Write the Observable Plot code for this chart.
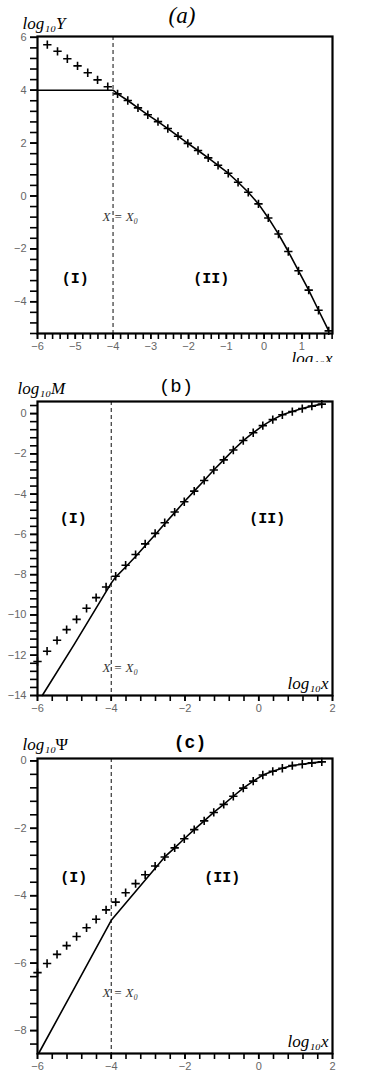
<!DOCTYPE html>
<html><head><meta charset="utf-8">
<script src="https://cdn.jsdelivr.net/npm/d3@7"></script>
<script src="https://cdn.jsdelivr.net/npm/@observablehq/plot@0.6"></script>
<style>html,body{margin:0;padding:0;background:#fff;} svg{display:block;}</style>
</head><body><div id="chart"></div>
<script>
// ---- data ----
const x0 = -4;
const crossX = [-6.0,-5.74,-5.47,-5.21,-4.94,-4.67,-4.41,-4.14,-3.88,-3.61,-3.34,-3.08,-2.81,-2.55,-2.28,-2.02,-1.75,-1.48,-1.22,-0.95,-0.69,-0.42,-0.15,0.11,0.38,0.64,0.91,1.18,1.44,1.71];
// panel (a): crosses start at crossX[1]
const crossYa = [5.72,5.47,5.19,4.92,4.66,4.39,4.13,3.86,3.61,3.33,3.07,2.81,2.55,2.26,1.99,1.72,1.44,1.16,0.86,0.52,0.14,-0.30,-0.83,-1.44,-2.10,-2.83,-3.56,-4.32,-5.10];
const crossYb = [-12.31,-11.80,-11.26,-10.73,-10.22,-9.67,-9.14,-8.61,-8.08,-7.53,-7.00,-6.47,-5.95,-5.42,-4.89,-4.38,-3.85,-3.32,-2.80,-2.30,-1.81,-1.34,-0.95,-0.60,-0.30,-0.06,0.10,0.25,0.37,0.47];
const crossYc = [-6.28,-6.01,-5.74,-5.48,-5.21,-4.95,-4.70,-4.42,-4.19,-3.91,-3.64,-3.38,-3.12,-2.85,-2.58,-2.31,-2.04,-1.78,-1.53,-1.29,-1.05,-0.81,-0.60,-0.42,-0.31,-0.22,-0.14,-0.10,-0.06,-0.03];
// solid curves, region (I) part and start of region (II)
const lineAx = [-6, -4];
const lineAy = [4, 4];
const lineBx = [-5.87,-5.0,-4.0,-3.88,-3.61,-3.34,-3.08,-2.81,-2.55,-2.28];
const lineBy = [-14.0,-11.45,-8.42,-8.12,-7.62,-7.10,-6.56,-6.02,-5.47,-4.92];
const lineCx = [-5.97,-5.0,-4.0,-2.55];
const lineCy = [-8.68,-6.74,-4.73,-2.85];
// tick labels
const xMajorA = [-6,-5,-4,-3,-2,-1,0,1];
const xMajorBC = [-6,-4,-2,0,2];
const yMajorA = [-4,-2,0,2,4,6];
const yMajorB = [-14,-12,-10,-8,-6,-4,-2,0];
const yMajorC = [-8,-6,-4,-2,0];
const titles = ["(a)", "(b)", "(c)"];
const yLabels = ["log₁₀Y", "log₁₀M", "log₁₀"];
const yLabelTail = ["", "", "Ψ"];
const xLabel = "log₁₀x";
const regionLabels = ["(I)", "(II)"];
const x0Label = "X = X₀";

// ---- build tables ----
const zip = (xs, ys) => xs.map((x, i) => ({x, y: ys[i]}));
const crossA = zip(crossX.slice(1), crossYa);
const crossB = zip(crossX, crossYb);
const crossC = zip(crossX, crossYc);
const lineA = zip(lineAx, lineAy).concat(zip(crossX.slice(8), crossYa.slice(7)));
const lineB = zip(lineBx, lineBy).concat(zip(crossX.slice(15), crossYb.slice(15)));
const lineC = zip(lineCx, lineCy).concat(zip(crossX.slice(14), crossYc.slice(14)));

const serif = "'Liberation Serif','Times New Roman',serif";
const mono = "'Liberation Mono','Courier New',monospace";
const sans = "'Liberation Sans',Arial,sans-serif";

function steps(start, step, n) { return d3.range(n).map(i => +(start + i * step).toFixed(3)); }

function panel(c) {
  return Plot.plot({
    width: 370, height: c.height,
    marginLeft: 37, marginRight: 38, marginTop: c.mt, marginBottom: c.mb,
    x: {domain: c.xd, label: null},
    y: {domain: c.yd, label: null},
    style: {fontFamily: sans, fontSize: "11px", background: "#fff", color: "#000", overflow: "hidden"},
    marks: [
      Plot.axisX(c.xMinor, {tickSize: 6, tickFormat: () => "", strokeWidth: 1.6, label: null}),
      Plot.axisX(c.xMajor, {tickSize: 6, tickPadding: 3, fill: "#666", strokeWidth: 1.6, label: null}),
      Plot.axisY(c.yMinor, {tickSize: 7, tickFormat: () => "", strokeWidth: 1.6, label: null}),
      Plot.axisY(c.yMajor, {tickSize: 7, tickPadding: 4, fill: "#666", strokeWidth: 1.6, label: null}),
      Plot.ruleX([x0], {strokeDasharray: "4,3", strokeWidth: 1.1, stroke: "#222"}),
      Plot.line(c.line, {x: "x", y: "y", stroke: "#000", strokeWidth: 1.6}),
      Plot.dot(c.cross, {x: "x", y: "y", symbol: "plus", r: 2.8, stroke: "#000", strokeWidth: 1.6}),
      Plot.frame({strokeWidth: 2.2}),
      Plot.text([c.title], {text: d => d, frameAnchor: "top", dx: c.tdx, dy: c.tdy, lineAnchor: "middle",
        fontSize: c.tSize, fontFamily: c.tFont, fontStyle: c.tStyle, fontWeight: c.tWeight}),
      Plot.text([c.yLabel], {text: d => d, frameAnchor: "top-left", textAnchor: "start", lineAnchor: "bottom",
        dx: c.ylx, dy: c.yly, fontSize: 17, fontFamily: serif, fontStyle: "italic"}),
      Plot.text([c.yTail], {text: d => d, frameAnchor: "top-left", textAnchor: "start", lineAnchor: "bottom",
        dx: c.ylx + 33, dy: c.yly, fontSize: 17, fontFamily: serif}),
      Plot.text([xLabel], {text: d => d, frameAnchor: "bottom-right", textAnchor: "end", lineAnchor: "bottom",
        dx: c.xlx, dy: c.xly, fontSize: 17, fontFamily: serif, fontStyle: "italic"}),
      Plot.text([{x: c.x0lab[0], y: c.x0lab[1]}], {x: "x", y: "y", text: () => x0Label, textAnchor: "start",
        lineAnchor: "bottom", fontSize: 13, fontFamily: serif, fontStyle: "italic", fill: "#333"}),
      Plot.text([{x: c.reg[0], y: c.reg[2], t: regionLabels[0]}, {x: c.reg[1], y: c.reg[2], t: regionLabels[1]}],
        {x: "x", y: "y", text: "t", lineAnchor: "middle", fontSize: 15, fontWeight: "bold", fontFamily: mono})
    ]
  });
}

const root = document.getElementById("chart");
root.append(panel({
  height: 362, mt: 36, mb: 29, xd: [-6, 1.81], yd: [-5.2, 6.03],
  xMinor: steps(-6, 0.2, 40), xMajor: xMajorA, yMinor: steps(6, -0.4, 29), yMajor: yMajorA,
  line: lineA, cross: crossA,
  title: titles[0], tdx: -3, tdy: -21, tSize: 23, tFont: serif, tStyle: "italic", tWeight: "normal",
  yLabel: yLabels[0], yTail: yLabelTail[0], ylx: -15, yly: -8, xlx: 0, xly: 30,
  x0lab: [-4.28, -0.93], reg: [-5.0, -1.4, -3.1]
}));
root.append(panel({
  height: 368, mt: 39, mb: 35, xd: [-6, 2], yd: [-14, 0.6],
  xMinor: steps(-6, 0.4, 21), xMajor: xMajorBC, yMinor: steps(0.4, -0.4, 37), yMajor: yMajorB,
  line: lineB, cross: crossB,
  title: titles[1], tdx: -9, tdy: -16, tSize: 19, tFont: mono, tStyle: "normal", tWeight: "normal",
  yLabel: yLabels[1], yTail: yLabelTail[1], ylx: -20, yly: -8, xlx: -4, xly: -7,
  x0lab: [-4.24, -12.84], reg: [-5.03, 0.23, -5.18]
}));
root.append(panel({
  height: 360, mt: 28, mb: 37, xd: [-6, 2], yd: [-8.68, 0.07],
  xMinor: steps(-6, 0.4, 21), xMajor: xMajorBC, yMinor: steps(0, -0.4, 22), yMajor: yMajorC,
  line: lineC, cross: crossC,
  title: titles[2], tdx: 5, tdy: -16, tSize: 18, tFont: mono, tStyle: "normal", tWeight: "bold",
  yLabel: yLabels[2], yTail: yLabelTail[2], ylx: -15, yly: -9, xlx: -4, xly: -7,
  x0lab: [-4.24, -7.01], reg: [-5.02, -0.99, -3.46]
}));
</script>
</body></html>
